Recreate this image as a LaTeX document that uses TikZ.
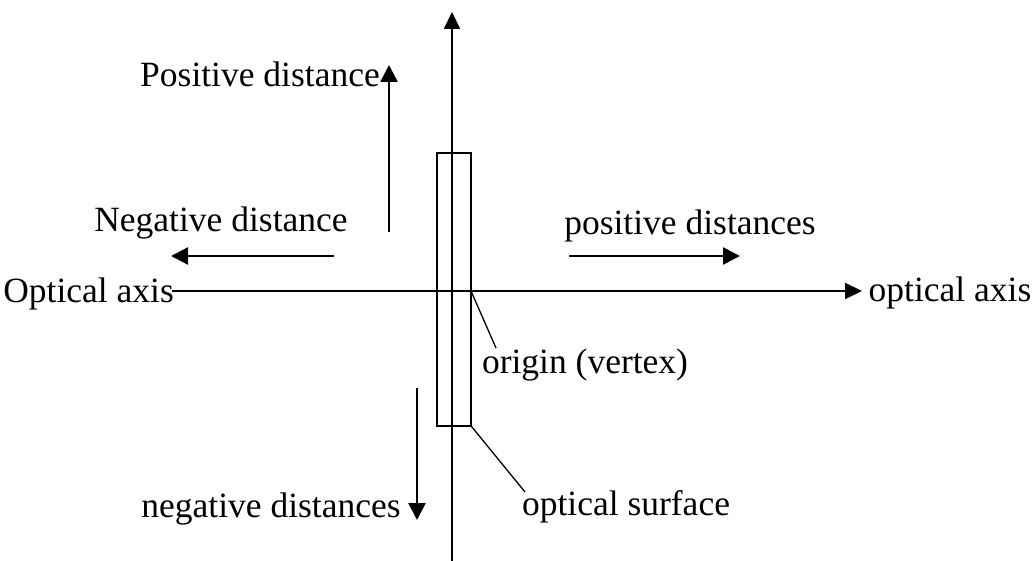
\documentclass[tikz,border=0pt]{standalone}
\usepackage{fontspec}
\setmainfont{Liberation Serif}
\usetikzlibrary{arrows.meta}
\begin{document}
\begin{tikzpicture}[x=1pt,y=-1pt,
  lbl/.style={inner sep=0pt,font=\fontsize{35.5}{40}\selectfont},
  axis/.style={line width=2pt,-{Triangle[length=17pt,width=16pt]}},
  dirarrow/.style={line width=2.6pt,-{Triangle[length=17pt,width=17pt]}},
  thin/.style={line width=1.3pt}]
\useasboundingbox (0,0) rectangle (1032,561);
% coordinates
\coordinate (vbot) at (452,561);
\coordinate (vtop) at (452,12);
\coordinate (hleft) at (172,291);
\coordinate (hright) at (862,291);
% axes
\draw[axis] (vbot) -- (vtop);
\draw[axis] (hleft) -- (hright);
% optical surface rectangle
\node[draw,thin,minimum width=34pt,minimum height=273pt,inner sep=0pt] (surf) at (454,289.5) {};
% labels
\node[lbl,anchor=base east] (oaxL) at (174,302) {Optical axis};
\node[lbl,anchor=base] (oaxR) at (950,301) {optical axis};
\node[lbl,anchor=base] (posd) at (260,87) {Positive distance};
\node[lbl,anchor=base] (negd) at (221,231) {Negative distance};
\node[lbl,anchor=base] (posds) at (690,235) {positive distances};
\node[lbl,anchor=base] (negds) at (271,517) {negative distances};
\node[lbl,anchor=base] (orig) at (585,373) {origin (vertex)};
\node[lbl,anchor=base] (osurf) at (626,515) {optical surface};
% direction arrows
\coordinate (pa1) at (389,232); \coordinate (pa2) at (389,65);
\coordinate (na1) at (334,256); \coordinate (na2) at (171,256);
\coordinate (pb1) at (569,256); \coordinate (pb2) at (740,256);
\coordinate (nb1) at (417,388); \coordinate (nb2) at (417,520);
\draw[dirarrow] (pa1) -- (pa2);
\draw[dirarrow] (na1) -- (na2);
\draw[dirarrow] (pb1) -- (pb2);
\draw[dirarrow] (nb1) -- (nb2);
% leaders
\coordinate (vtx) at (471,291);
\coordinate (vtxl) at (496,348);
\coordinate (sl) at (525,492);
\draw[thin] (vtx) -- (vtxl);
\draw[thin] (surf.south east) -- (sl);
\end{tikzpicture}
\end{document}
